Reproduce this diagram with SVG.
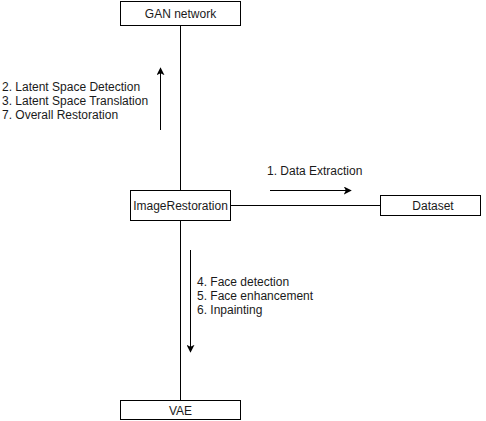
<svg xmlns="http://www.w3.org/2000/svg" width="486" height="421" viewBox="0 0 486 421">
<style>
.box{fill:#fff;stroke:#000;stroke-width:1}
.ln{fill:none;stroke:#000;stroke-width:1}
text{font-family:"Liberation Sans",Arial,sans-serif;font-size:12px;fill:#1a1a1a}
.c{text-anchor:middle}
</style>
<defs>
<marker id="arr" viewBox="0 0 10 10" refX="9" refY="5" markerWidth="8" markerHeight="8" markerUnits="userSpaceOnUse" orient="auto">
<path d="M0,0 L10,5 L0,10 L2.5,5 Z" fill="#000"/>
</marker>
</defs>
<rect width="486" height="421" fill="#fff"/>
<g id="connectors">
<path class="ln" d="M180.5,25 V190"/>
<path class="ln" d="M180.5,220 V400"/>
<path class="ln" d="M230,205.5 H380"/>
<path class="ln" d="M160.5,130 V68" marker-end="url(#arr)"/>
<path class="ln" d="M190.5,250 V352" marker-end="url(#arr)"/>
<path class="ln" d="M270,190.5 H351" marker-end="url(#arr)"/>
</g>
<g id="gan">
<rect class="box" x="120.5" y="1.5" width="120" height="24"/>
<text class="c" x="180.5" y="18">GAN network</text>
</g>
<g id="imagerestoration">
<rect class="box" x="130.5" y="190.5" width="100" height="30"/>
<text class="c" x="180.5" y="210">ImageRestoration</text>
</g>
<g id="dataset">
<rect class="box" x="380.5" y="195.5" width="100" height="20"/>
<text class="c" x="433" y="210">Dataset</text>
</g>
<g id="vae">
<rect class="box" x="120.5" y="400.5" width="120" height="19"/>
<text class="c" x="180.5" y="414.5">VAE</text>
</g>
<g id="labels">
<text x="2" y="91">2. Latent Space Detection</text>
<text x="2" y="105">3. Latent Space Translation</text>
<text x="2" y="119">7. Overall Restoration</text>
<text x="267" y="175">1. Data Extraction</text>
<text x="197" y="286">4. Face detection</text>
<text x="197" y="300">5. Face enhancement</text>
<text x="197" y="314">6. Inpainting</text>
</g>
</svg>
